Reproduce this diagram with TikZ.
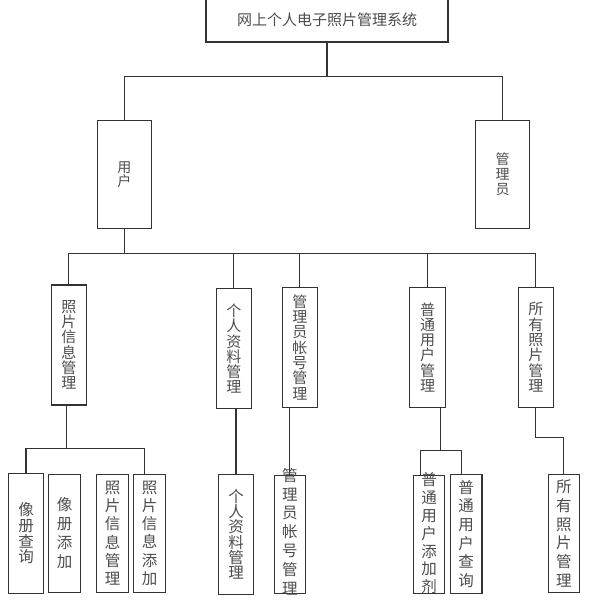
\documentclass[tikz,border=0pt]{standalone}
\usepackage{fontspec}
\newfontfamily\cjk{Noto Sans CJK SC}

\begin{document}
\begin{tikzpicture}[x=1pt,y=-1pt,line width=1.1pt,draw=black!80,
    box/.style={draw=black!80,inner sep=0pt,align=center,text=black!70},
    rolebox/.style={box,minimum width=54pt,minimum height=108pt,font=\cjk\fontsize{14}{#1}\selectfont},
    rolebox/.default=13,
    modbox/.style={box,minimum width=35.5pt,minimum height=120pt,font=\cjk\fontsize{15}{15.3}\selectfont},
    leafbox/.style={box,minimum width=31.6pt,minimum height=118.3pt,font=\cjk\fontsize{15.5}{#1}\selectfont},
    leafbox/.default=18.5,
    leaftext/.style={align=center,text=black!70,font=\cjk\fontsize{15.5}{#1}\selectfont}]
    \useasboundingbox (0,0) rectangle (593,610);

    \node [box,minimum width=242pt,minimum height=45pt,font=\cjk\fontsize{15}{15}\selectfont] (sys) at (327,19.5) {网上个人电子照片管理系统};

    \node [rolebox] (user) at (124.3,174.6) {用\\户};
    \node [rolebox=15] (admin) at (502.7,174.5) {管\\理\\员};

    \node [modbox] (photo) at (68.9,345) {照\\片\\信\\息\\管\\理};
    \node [modbox] (info) at (233.9,348.7) {个\\人\\资\\料\\管\\理};
    \node [modbox] (acct) at (299.8,347.3) {管\\理\\员\\帐\\号\\管\\理};
    \node [modbox] (umgr) at (427.5,347.3) {普\\通\\用\\户\\管\\理};
    \node [modbox] (pmgr) at (535.9,347.3) {所\\有\\照\\片\\管\\理};

    \node [leafbox=15.7,minimum width=35.4pt,minimum height=120pt] (l1) at (26,533.3) {像\\册\\查\\询};
    \node [leafbox=19] (l2) at (64.5,533.5) {像\\册\\添\\加};
    \node [leafbox=18.3] (l3) at (112.5,533.2) {照\\片\\信\\息\\管\\理};
    \node [leafbox=18.3] (l4) at (149.7,533.2) {照\\片\\信\\息\\添\\加};
    \node [leafbox=15.3,minimum width=34.6pt,minimum height=119.7pt] (l5) at (236,534.2) {个\\人\\资\\料\\管\\理};
    \node [leafbox] (l6) at (289.9,534.2) {};
    \node [leaftext=18.9] (l6t) at (289.9,531.7) {管\\理\\员\\帐\\号\\管\\理};
    \node [leafbox] (l7) at (429,534.2) {};
    \node [leaftext=17.8] (l7t) at (429,533.3) {普\\通\\用\\户\\添\\加\\剂};
    \node [leafbox=18.7] (l8) at (466.2,534) {普\\通\\用\\户\\查\\询};
    \node [leafbox=18.7] (l9) at (563.9,533.5) {所\\有\\照\\片\\管\\理};

    \draw (sys.south) -- ++(0,34) coordinate (j0);
    \draw (user.north) |- (j0) -| (admin.north);

    \draw (user.south) -- ++(0,24) coordinate (j1);
    \draw (photo.north) |- (j1) -| (pmgr.north);
    \draw (info.north) -- (info.north |- j1);
    \draw (acct.north) -- (acct.north |- j1);
    \draw (umgr.north) -- (umgr.north |- j1);

    \draw ([xshift=-2pt]photo.south) -- ++(0,43.3) coordinate (j2);
    \draw (l1.north) |- (j2) -| ([xshift=-5pt]l4.north);
    \draw (l5.north) -- (l5.north |- info.south);
    \draw (l6.north) -- (l6.north |- acct.south);
    \draw ([xshift=13pt]umgr.south) -- ++(0,42.7) coordinate (j3);
    \draw ([xshift=-8.7pt]l7.north) |- (j3) -| ([xshift=-5pt]l8.north);
    \draw (pmgr.south) -- ++(0,29.4) -| (l9.north);
\end{tikzpicture}
\end{document}
